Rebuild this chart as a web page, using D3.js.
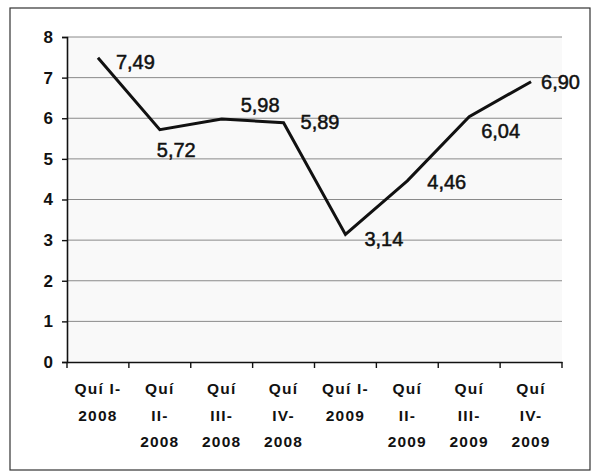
<!DOCTYPE html>
<html><head><meta charset="utf-8">
<script src="https://cdn.jsdelivr.net/npm/d3@7"></script>
<style>body{margin:0;background:#fff}svg{display:block}</style>
</head><body><svg id="c" width="592" height="473"></svg>
<script>
const categories = ["Quí I-\n2008","Quí\nII-\n2008","Quí\nIII-\n2008","Quí\nIV-\n2008","Quí I-\n2009","Quí\nII-\n2009","Quí\nIII-\n2009","Quí\nIV-\n2009"];
const values = [7.49, 5.72, 5.98, 5.89, 3.14, 4.46, 6.04, 6.90];
const valueLabels = ["7,49","5,72","5,98","5,89","3,14","4,46","6,04","6,90"];
const yTicks = [0,1,2,3,4,5,6,7,8];

// label placement offsets (dx, dy) relative to each point
const labelOffsets = [[18,11],[-3,27],[19,-7],[17,6],[19,12],[20,8],[12,21],[10,7]];

const FONT = "'Liberation Sans Narrow','Arial Narrow','Liberation Sans',Arial,sans-serif";
const svg = d3.select("#c");
const m = {left:67, right:30, top:37, bottom:111};
const W = 592, H = 473;
const x = d3.scaleBand().domain(categories).range([m.left, W - m.right]);
const y = d3.scaleLinear().domain([0,8]).range([H - m.bottom, m.top]);

// outer frame
svg.append("rect").attr("x",10).attr("y",8).attr("width",580).attr("height",462)
  .attr("fill","none").attr("stroke","#333").attr("stroke-width",1.2);

// plot background
svg.append("rect").attr("x",m.left).attr("y",m.top).attr("width",x.range()[1]-m.left)
  .attr("height",y(0)-m.top).attr("fill","#f9f9f9");

// gridlines
svg.append("g").selectAll("line").data(yTicks.filter(d=>d>0)).join("line")
  .attr("x1",m.left).attr("x2",x.range()[1])
  .attr("y1",d=>y(d)).attr("y2",d=>y(d))
  .attr("stroke","#8a8a8a").attr("stroke-width",1);

// y axis
const ya = svg.append("g").attr("transform",`translate(${m.left},0)`)
  .call(d3.axisLeft(y).tickValues(yTicks).tickSize(5).tickPadding(9).tickFormat(d3.format("d")));
ya.select(".domain").attr("stroke","#111").attr("stroke-width",1.6);
ya.selectAll(".tick line").attr("stroke","#111").attr("stroke-width",1.4);
ya.selectAll("text").attr("font-family",FONT)
  .attr("font-weight","bold").attr("font-size",17).attr("fill","#111");

// x axis
const xa = svg.append("g").attr("transform",`translate(0,${y(0)})`)
  .call(d3.axisBottom(x).tickSize(0).tickFormat(""));
xa.select(".domain").attr("stroke","#111").attr("stroke-width",1.6);
// category boundary ticks
const bounds = categories.map(c=>x(c)).concat([x.range()[1]]);
svg.append("g").selectAll("line").data(bounds).join("line")
  .attr("x1",d=>d).attr("x2",d=>d).attr("y1",y(0)).attr("y2",y(0)+6)
  .attr("stroke","#111").attr("stroke-width",1.4);

// x labels
const xl = svg.append("g").selectAll("text").data(categories).join("text")
  .attr("x",d=>x(d)+x.bandwidth()/2).attr("y",y(0)+32)
  .attr("text-anchor","middle")
  .attr("font-family",FONT)
  .attr("font-weight","bold").attr("font-size",15.5).attr("letter-spacing",1.2).attr("fill","#111");
xl.each(function(d){
  const t = d3.select(this);
  d.split("\n").forEach((s,i)=>{
    t.append("tspan").attr("x",x(d)+x.bandwidth()/2).attr("dy",i===0?0:26.5).text(s);
  });
});

// line
const line = d3.line().x((d,i)=>x(categories[i])+x.bandwidth()/2).y(d=>y(d));
svg.append("path").datum(values).attr("d",line).attr("fill","none")
  .attr("stroke","#111").attr("stroke-width",3).attr("stroke-linejoin","miter");

// value labels
svg.append("g").selectAll("text").data(values).join("text")
  .attr("x",(d,i)=>x(categories[i])+x.bandwidth()/2+labelOffsets[i][0])
  .attr("y",(d,i)=>y(d)+labelOffsets[i][1])
  .attr("font-family",FONT)
  .attr("font-size",20).attr("fill","#111")
  .attr("stroke","#111").attr("stroke-width",0.5)
  .text((d,i)=>valueLabels[i]);
</script></body></html>
